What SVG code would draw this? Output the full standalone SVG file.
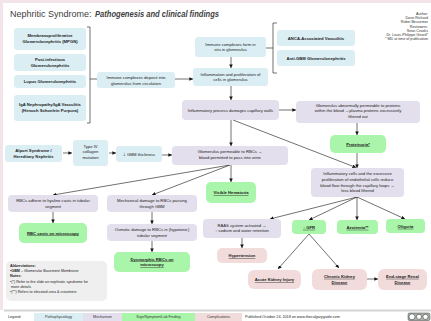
<svg xmlns="http://www.w3.org/2000/svg" width="431" height="321" viewBox="0 0 431 321">
<defs>
<marker id="ah" viewBox="0 0 6 6" refX="6" refY="3" markerUnits="userSpaceOnUse" markerWidth="3.6" markerHeight="3.6" orient="auto"><path d="M0,0 L6,3 L0,6 z" fill="#111"/></marker>
<style>
text{font-family:"Liberation Sans",Arial,sans-serif;fill:#222;}
.t{font-size:4.2px;text-anchor:middle;}
.b{font-weight:bold;}
.u{font-weight:bold;text-decoration:underline;}
.path{fill:#dbeef4;}
.mech{fill:#e4dfec;}
.sign{fill:#a9f5a9;}
.comp{fill:#f2dcdb;}
.au{font-size:3.7px;text-anchor:end;fill:#333;}
.ab{font-size:3.7px;fill:#222;}
.lg{font-size:3.7px;text-anchor:middle;fill:#333;}
.c line,.c path{stroke:#111;stroke-width:0.6;fill:none;}
.a{marker-end:url(#ah);}
</style>
</defs>
<rect width="431" height="321" fill="#ffffff"/>
<rect x="0" y="0" width="431" height="3" fill="#f2e4e9"/>
<rect x="0" y="0" width="3" height="310" fill="#f2e4e9"/>

<text x="10" y="17" font-size="9" fill="#404040" style="fill:#404040">Nephritic Syndrome: </text>
<text x="95" y="17" font-size="9" font-weight="bold" font-style="italic" textLength="124" lengthAdjust="spacingAndGlyphs" style="fill:#404040">Pathogenesis and clinical findings</text>

<g id="authors">
<text class="au" x="428" y="15">Author:</text>
<text class="au" x="428" y="19.2">Dane Richard</text>
<text class="au" x="428" y="23.4">Robin Bessemer</text>
<text class="au" x="428" y="27.6">Reviewers:</text>
<text class="au" x="428" y="31.8">Sean Crooks</text>
<text class="au" x="428" y="36">Dr. Louis-Philippe Girard*</text>
<text class="au" x="428" y="40.2">* MD at time of publication</text>
</g>

<g class="c" id="connectors">
<path d="M87,27 H90 V123 H87"/>
<line x1="90" y1="79" x2="97" y2="79"/>
<line class="a" x1="175" y1="79" x2="193" y2="79"/>
<line class="a" x1="231" y1="57" x2="231" y2="68"/>
<path d="M277,23 H273 V73 H277"/>
<line x1="266" y1="48" x2="273" y2="48"/>
<line class="a" x1="231" y1="86" x2="231" y2="100"/>
<line class="a" x1="231" y1="120" x2="231" y2="146"/>
<line class="a" x1="279" y1="110" x2="296" y2="110"/>
<line class="a" x1="357" y1="123" x2="357" y2="135"/>
<line class="a" x1="357" y1="153" x2="357" y2="168"/>
<line class="a" x1="233" y1="120" x2="356" y2="167.5"/>
<line class="a" x1="63" y1="153" x2="72" y2="153"/>
<line class="a" x1="109" y1="153" x2="116" y2="153"/>
<line class="a" x1="162" y1="155" x2="172" y2="155"/>
<line class="a" x1="230" y1="165" x2="53" y2="195"/>
<line class="a" x1="230" y1="165" x2="152" y2="195"/>
<line class="a" x1="231" y1="165" x2="231" y2="182"/>
<line class="a" x1="53" y1="212" x2="53" y2="223"/>
<line class="a" x1="152" y1="212" x2="152" y2="224"/>
<line class="a" x1="152" y1="241" x2="152" y2="252"/>
<line class="a" x1="357" y1="197" x2="270" y2="219"/>
<line class="a" x1="357" y1="197" x2="309" y2="220"/>
<line class="a" x1="357" y1="197" x2="357" y2="220"/>
<line class="a" x1="357" y1="197" x2="405" y2="219"/>
<line class="a" x1="242" y1="238" x2="242" y2="248"/>
<line class="a" x1="309" y1="234" x2="278" y2="269"/>
<line class="a" x1="309" y1="234" x2="339" y2="268"/>
<line class="a" x1="367" y1="279" x2="378" y2="279"/>
</g>

<g id="mpgn"><rect class="path" x="14" y="28" width="72" height="22" rx="3"/>
<text class="t b" x="50" y="37">Membranoproliferative</text><text class="t b" x="50" y="42.7">Glomerulonephritis (MPGN)</text></g>
<g id="postinf"><rect class="path" x="14" y="54" width="72" height="17" rx="3"/>
<text class="t b" x="50" y="61">Post-infectious</text><text class="t b" x="50" y="66.5">Glomerulonephritis</text></g>
<g id="lupus"><rect class="path" x="14" y="75" width="72" height="13" rx="3"/>
<text class="t b" x="50" y="83">Lupus Glomerulonephritis</text></g>
<g id="iga"><rect class="path" x="14" y="95" width="72" height="26" rx="3"/>
<text class="t b" x="50" y="106">IgA Nephropathy/IgA Vasculitis</text><text class="t b" x="50" y="111.7">(Henoch Schonlein Purpura)</text></g>

<g id="deposit"><rect class="path" x="97" y="72" width="78" height="16" rx="3"/>
<text class="t" x="136" y="79">Immune complexes deposit into</text><text class="t" x="136" y="84.5">glomerulus from circulation</text></g>
<g id="insitu"><rect class="path" x="195" y="37" width="71" height="20" rx="3"/>
<text class="t" x="230.5" y="45.5">Immune complexes form in</text><text class="t" x="230.5" y="51">situ in glomerulus</text></g>
<g id="inflam"><rect class="path" x="193" y="68" width="75" height="18" rx="3"/>
<text class="t" x="230.5" y="75.8">Inflammation and proliferation of</text><text class="t" x="230.5" y="81.3">cells in glomerulus</text></g>
<g id="anca"><rect class="path" x="277" y="30" width="78" height="16" rx="3"/>
<text class="t b" x="316" y="39.5">ANCA-Associated Vasculitis</text></g>
<g id="antigbm"><rect class="path" x="277" y="50" width="78" height="16" rx="3"/>
<text class="t b" x="316" y="59.5">Anti-GBM Glomerulonephritis</text></g>

<g id="inflproc"><rect class="mech" x="182" y="100" width="97" height="20" rx="4"/>
<text class="t" x="230.5" y="111.5">Inflammatory process damages capillary walls</text></g>
<g id="protperm"><rect class="mech" x="296" y="101" width="124" height="22" rx="4"/>
<text class="t" x="358" y="106.5">Glomerulus abnormally permeable to proteins</text><text class="t" x="358" y="112.2">within the blood →plasma proteins excessively</text><text class="t" x="358" y="117.9">filtered out</text></g>
<g id="proteinuria"><rect class="sign" x="330" y="135" width="56" height="18" rx="5"/>
<text class="t u" x="358" y="145.5">Proteinuria*</text></g>

<g id="alport"><rect class="path" x="5" y="145" width="57" height="17" rx="3"/>
<text class="t b" x="33.5" y="152">Alport Syndrome /</text><text class="t b" x="33.5" y="157.7">Hereditary Nephritis</text></g>
<g id="type4"><rect class="path" x="73" y="140" width="35" height="26" rx="3"/>
<text class="t" x="90.5" y="147.5">Type IV</text><text class="t" x="90.5" y="153.3">collagen</text><text class="t" x="90.5" y="159.1">mutation</text></g>
<g id="gbm"><rect class="path" x="116" y="146" width="46" height="16" rx="3"/>
<text class="t" x="139" y="155.5"><tspan font-size="6">↓</tspan> GBM thickness</text></g>
<g id="rbcperm"><rect class="mech" x="172" y="146" width="116" height="19" rx="4"/>
<text class="t" x="230" y="153.3">Glomerulus permeable to RBCs →</text><text class="t" x="230" y="159">blood permitted to pass into urine</text></g>

<g id="inflcells"><rect class="mech" x="311" y="168" width="93" height="29" rx="4"/>
<text class="t" x="357.5" y="175.3">Inflammatory cells and the excessive</text><text class="t" x="357.5" y="180.9">proliferation of endothelial cells reduce</text><text class="t" x="357.5" y="186.5">blood flow through the capillary loops →</text><text class="t" x="357.5" y="192.1">less blood filtered</text></g>

<g id="hematuria"><rect class="sign" x="206" y="182" width="50" height="21" rx="5"/>
<text class="t u" x="231" y="194">Visible Hematuria</text></g>
<g id="hyaline"><rect class="mech" x="8" y="195" width="90" height="17" rx="4"/>
<text class="t" x="53" y="202">RBCs adhere to hyaline casts in tubular</text><text class="t" x="53" y="207.6">segment</text></g>
<g id="mechdmg"><rect class="mech" x="107" y="195" width="90" height="17" rx="4"/>
<text class="t" x="152" y="202">Mechanical damage to RBCs passing</text><text class="t" x="152" y="207.6">through GBM</text></g>
<g id="osmotic"><rect class="mech" x="107" y="224" width="90" height="17" rx="4"/>
<text class="t" x="152" y="231">Osmotic damage to RBCs in (hypotonic)</text><text class="t" x="152" y="236.6">tubular segment</text></g>
<g id="rbccasts"><rect class="sign" x="19" y="223" width="68" height="20" rx="5"/>
<text class="t u" x="53" y="234.5">RBC casts on microscopy</text></g>
<g id="dysmorphic"><rect class="sign" x="114" y="252" width="76" height="20" rx="5"/>
<text class="t u" x="152" y="260.5">Dysmorphic RBCs on</text><text class="t u" x="152" y="266.3">microscopy</text></g>

<g id="raas"><rect class="mech" x="203" y="219" width="78" height="19" rx="4"/>
<text class="t" x="242" y="226.5">RAAS system activated →</text><text class="t" x="242" y="232.3">↑ sodium and water retention</text></g>
<g id="gfr"><rect class="sign" x="292" y="220" width="34" height="14" rx="4"/>
<text class="t u" x="309" y="228.8">↓ GFR</text></g>
<g id="azotemia"><rect class="sign" x="337" y="220" width="41" height="14" rx="4"/>
<text class="t u" x="357.5" y="228.8">Azotemia**</text></g>
<g id="oliguria"><rect class="sign" x="386" y="219" width="39" height="14" rx="4"/>
<text class="t u" x="405.5" y="227.8">Oliguria</text></g>
<g id="htn"><rect class="comp" x="217" y="248" width="50" height="15" rx="5"/>
<text class="t u" x="242" y="257">Hypertension</text></g>
<g id="aki"><rect class="comp" x="248" y="270" width="53" height="19" rx="6"/>
<text class="t u" x="274.5" y="281">Acute Kidney Injury</text></g>
<g id="ckd"><rect class="comp" x="312" y="269" width="55" height="21" rx="6"/>
<text class="t u" x="339.5" y="277.8">Chronic Kidney</text><text class="t u" x="339.5" y="283.6">Disease</text></g>
<g id="esrd"><rect class="comp" x="378" y="269" width="49" height="21" rx="6"/>
<text class="t u" x="402.5" y="277.8">End-stage Renal</text><text class="t u" x="402.5" y="283.6">Disease</text></g>

<g id="notes"><rect x="6" y="261" width="101" height="40" rx="5" fill="#efefef"/>
<text class="ab" x="10" y="266.5" font-weight="bold">Abbreviations:</text>
<text class="ab" x="10" y="272"><tspan font-weight="bold">•GBM</tspan> – Glomerular Basement Membrane</text>
<text class="ab" x="10" y="277.3" font-weight="bold">Notes:</text>
<text class="ab" x="10" y="282.8">•(*) Refer to the slide on nephrotic syndrome for</text>
<text class="ab" x="11" y="287.6">more details</text>
<text class="ab" x="10" y="293">•(**) Refers to elevated urea &amp; creatinine</text></g>

<g id="legend">
<rect x="4" y="309.5" width="427" height="2" fill="#d4d4d4"/>
<text class="ab" x="8" y="318.3">Legend:</text>
<rect class="path" x="34" y="313" width="49" height="8"/>
<text class="lg" x="58.5" y="318.3">Pathophysiology</text>
<rect class="mech" x="83" y="313" width="39" height="8"/>
<text class="lg" x="102.5" y="318.3">Mechanism</text>
<rect class="sign" x="122" y="313" width="73" height="8"/>
<text class="lg" x="158.5" y="318.3">Sign/Symptom/Lab Finding</text>
<rect class="comp" x="195" y="313" width="47" height="8"/>
<text class="lg" x="218.5" y="318.3">Complications</text>
<text class="ab" x="245" y="318.3">Published October 24, 2018 on www.thecalgaryguide.com</text>
<rect x="408" y="313" width="22" height="7.5" rx="1.5" fill="#aab2ab" stroke="#222" stroke-width="0.4"/>
<circle cx="412" cy="316.8" r="3" fill="#fff" stroke="#222" stroke-width="0.5"/>
<circle cx="419" cy="316.8" r="2.6" fill="#fff" stroke="#222" stroke-width="0.5"/>
<circle cx="425.5" cy="316.8" r="2.6" fill="#fff" stroke="#222" stroke-width="0.5"/>
</g>
</svg>
